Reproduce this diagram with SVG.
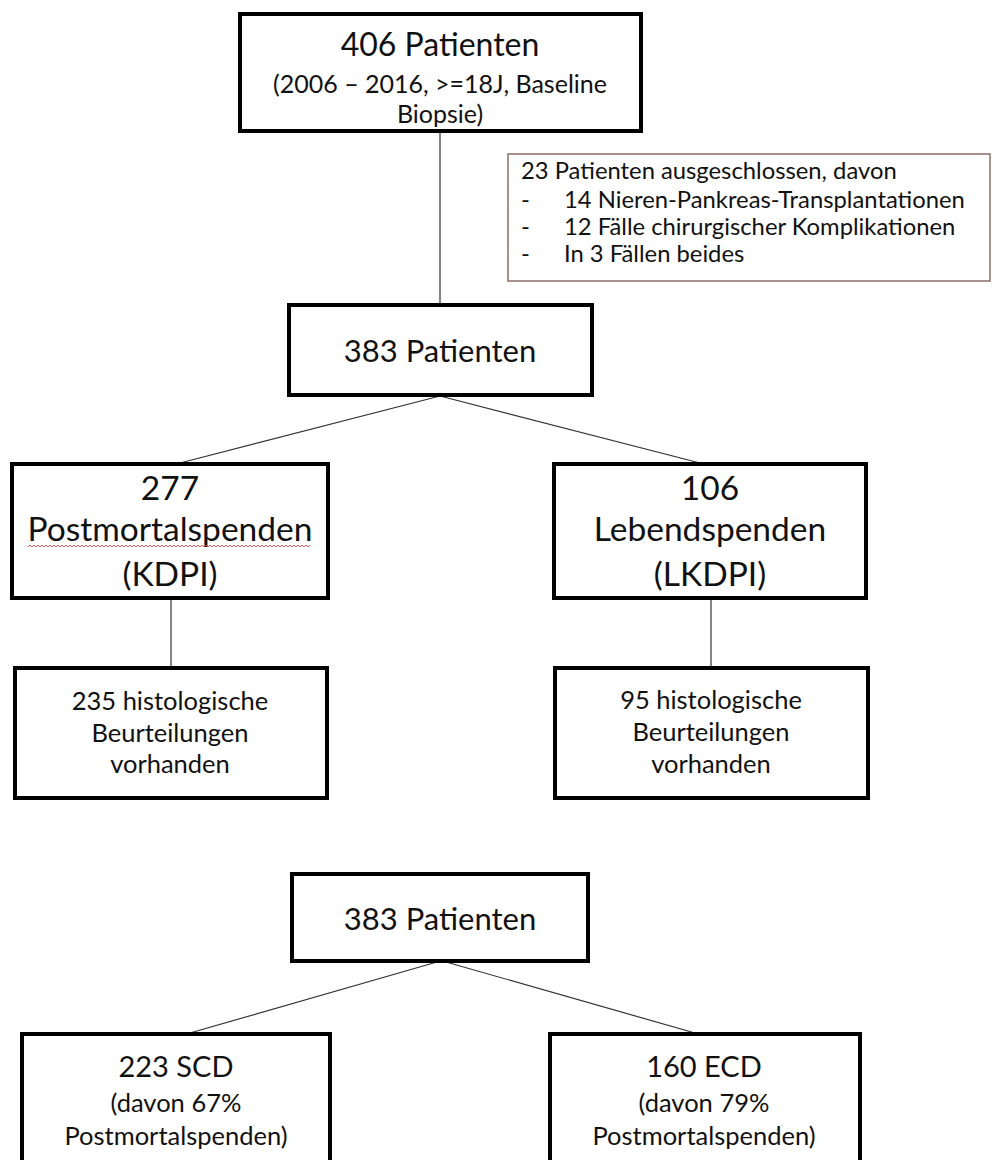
<svg xmlns="http://www.w3.org/2000/svg" width="993" height="1160" viewBox="0 0 993 1160">
  <style>
    .box { fill: #ffffff; stroke: #000000; stroke-width: 4; }
    .note { fill: #ffffff; stroke: #8a6e66; stroke-width: 1.5; }
    .conn { stroke: #333333; stroke-width: 1.2; fill: none; }
    text { font-family: Lato, "Open Sans", "Liberation Sans", sans-serif; fill: #111111; }
    .c { text-anchor: middle; }
    .f32 { font-size: 32px; }
    .f31 { font-size: 31px; }
    .f33 { font-size: 33.5px; }
    .f29 { font-size: 29px; }
    .f25 { font-size: 25px; }
    .f255 { font-size: 25.5px; }
    .f24 { font-size: 23.8px; }
  </style>
  <defs>
    <pattern id="wave" width="4" height="4" patternUnits="userSpaceOnUse">
      <path d="M0,3 L2,1 L4,3" stroke="#e03030" stroke-width="0.8" fill="none"/>
    </pattern>
  </defs>
  <rect width="993" height="1160" fill="#ffffff"/>

  <g id="connectors">
    <line class="conn" x1="440" y1="132" x2="440" y2="304"/>
    <line class="conn" x1="440" y1="396" x2="180" y2="463"/>
    <line class="conn" x1="440" y1="396" x2="700" y2="463"/>
    <line class="conn" x1="171" y1="599" x2="171" y2="667"/>
    <line class="conn" x1="711" y1="599" x2="711" y2="667"/>
    <line class="conn" x1="437" y1="962" x2="190" y2="1033"/>
    <line class="conn" x1="446" y1="962" x2="695" y2="1033"/>
  </g>

  <g id="n406">
    <rect class="box" x="240" y="14" width="401" height="117"/>
    <text class="c f32" x="440" y="56">406 Patienten</text>
    <text class="c f25" x="440" y="93">(2006 – 2016, &gt;=18J, Baseline</text>
    <text class="c f25" x="440" y="123">Biopsie)</text>
  </g>

  <g id="excluded">
    <rect class="note" x="508" y="154" width="482" height="127"/>
    <text class="f24" x="521" y="179">23 Patienten ausgeschlossen, davon</text>
    <text class="f24" x="521" y="208">-</text>
    <text class="f24" x="564" y="208">14 Nieren-Pankreas-Transplantationen</text>
    <text class="f24" x="521" y="235">-</text>
    <text class="f24" x="564" y="235">12 Fälle chirurgischer Komplikationen</text>
    <text class="f24" x="521" y="262">-</text>
    <text class="f24" x="564" y="262">In 3 Fällen beides</text>
  </g>

  <g id="n383a">
    <rect class="box" x="289" y="305" width="303" height="90"/>
    <text class="c f31" x="440" y="362">383 Patienten</text>
  </g>

  <g id="n277">
    <rect class="box" x="12" y="464" width="316" height="134"/>
    <text class="c f33" x="170" y="500">277</text>
    <text class="c f33" x="170" y="541">Postmortalspenden</text>
    <rect x="28" y="543" width="282" height="4" fill="url(#wave)"/>
    <text class="c f33" x="170" y="586">(KDPI)</text>
  </g>

  <g id="n106">
    <rect class="box" x="554" y="464" width="312" height="134"/>
    <text class="c f33" x="710" y="500">106</text>
    <text class="c f33" x="710" y="541">Lebendspenden</text>
    <text class="c f33" x="710" y="586">(LKDPI)</text>
  </g>

  <g id="n235">
    <rect class="box" x="15" y="668" width="312" height="130"/>
    <text class="c f255" x="170" y="710">235 histologische</text>
    <text class="c f255" x="170" y="742">Beurteilungen</text>
    <text class="c f255" x="170" y="773">vorhanden</text>
  </g>

  <g id="n95">
    <rect class="box" x="555" y="668" width="313" height="130"/>
    <text class="c f255" x="711" y="709">95 histologische</text>
    <text class="c f255" x="711" y="741">Beurteilungen</text>
    <text class="c f255" x="711" y="773">vorhanden</text>
  </g>

  <g id="n383b">
    <rect class="box" x="292" y="874" width="296" height="87"/>
    <text class="c f31" x="440" y="930">383 Patienten</text>
  </g>

  <g id="nSCD">
    <rect class="box" x="22" y="1034" width="308" height="200"/>
    <text class="c f29" x="176" y="1077">223 SCD</text>
    <text class="c f255" x="176" y="1112">(davon 67%</text>
    <text class="c f255" x="176" y="1145">Postmortalspenden)</text>
  </g>

  <g id="nECD">
    <rect class="box" x="550" y="1034" width="310" height="200"/>
    <text class="c f29" x="704" y="1077">160 ECD</text>
    <text class="c f255" x="704" y="1112">(davon 79%</text>
    <text class="c f255" x="704" y="1145">Postmortalspenden)</text>
  </g>
</svg>
